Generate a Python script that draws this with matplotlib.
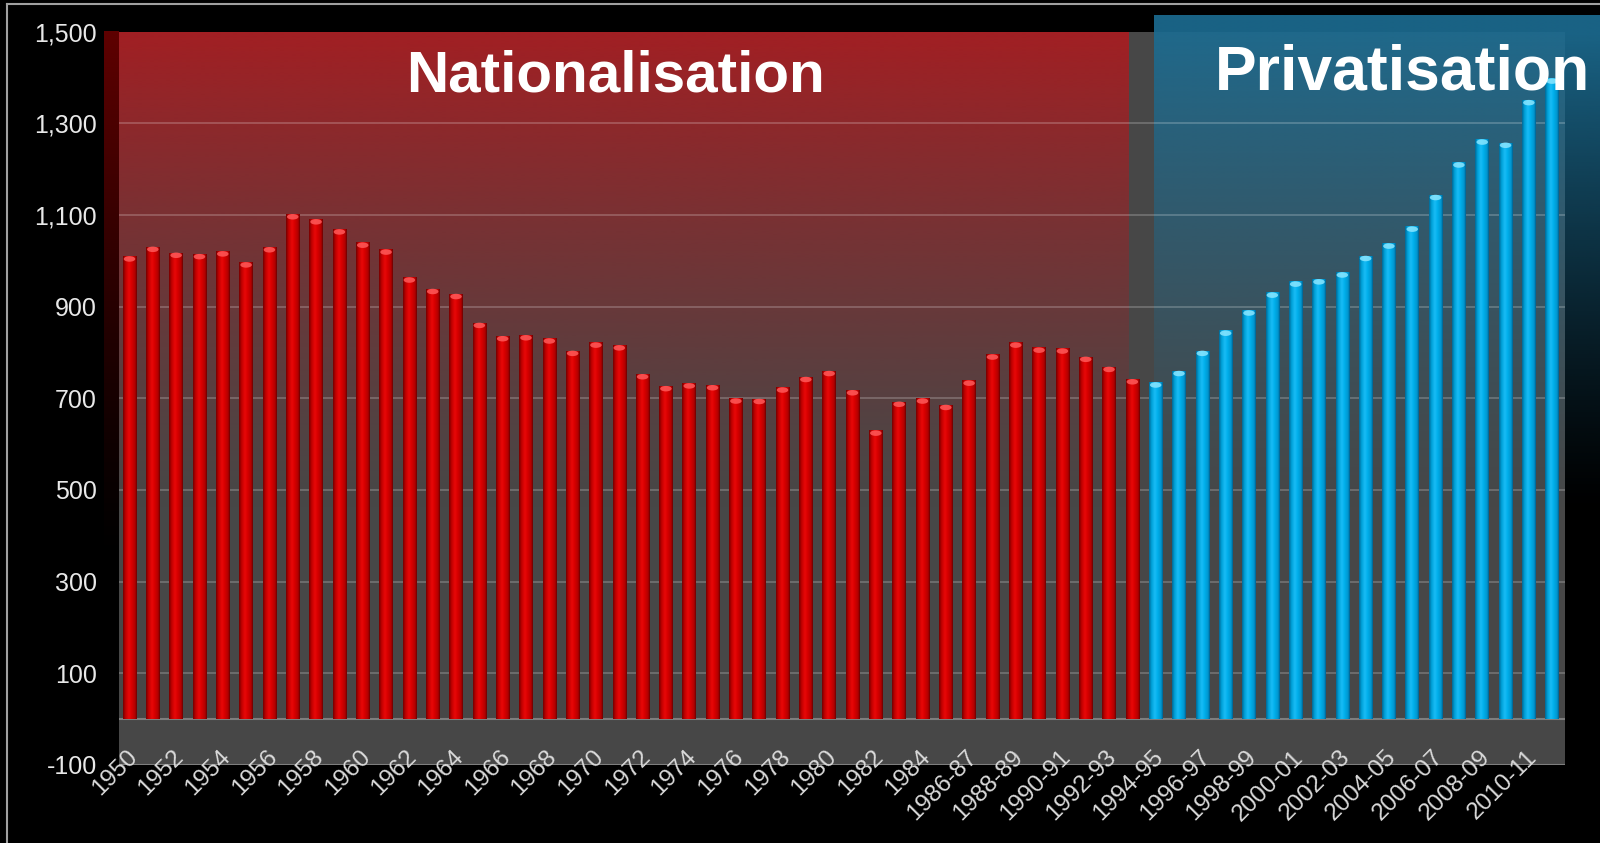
import matplotlib
matplotlib.use("Agg")
import matplotlib.pyplot as plt
import numpy as np
from matplotlib.patches import Ellipse
from matplotlib.lines import Line2D
from matplotlib.ticker import FuncFormatter

plt.rcParams['font.family'] = ['Liberation Sans', 'DejaVu Sans']

# rail passenger journeys (millions), one bar per year
years = [str(y) for y in range(1950, 1986)] + \
        ["%d-%02d" % (y, (y + 1) % 100) for y in range(1986, 2012)]

nationalised = [1010, 1031, 1018, 1015, 1021, 997, 1030, 1102, 1091, 1069,
                1040, 1025, 964, 939, 928, 865, 836, 838, 831, 804,
                822, 816, 753, 727, 733, 729, 700, 699, 724, 747,
                760, 718, 630, 693, 700, 686, 739, 796, 822, 811,
                809, 791, 769, 742]
privatised = [735, 760, 804, 848, 892, 931, 955, 960, 975, 1011,
              1038, 1075, 1144, 1215, 1265, 1258, 1351, 1398]

y_ticks = list(range(-100, 1501, 200))

values = nationalised + privatised
x = np.arange(len(years))
n_red = len(nationalised)

W, H = 1600, 843
fig = plt.figure(figsize=(W / 100, H / 100), dpi=100, facecolor='black')
ax = fig.add_axes([119 / W, 1 - 765 / H, (1565 - 119) / W, (765 - 31.6) / H])
ax.set_facecolor('#474747')
for s in ax.spines.values():
    s.set_visible(False)

XL = (-0.45, 61.55)
YL = (-100, 1500)


def vgrad(rgb, x0, x1, y0, y1, a_top, fade_to, z=0.2, clip=True):
    # vertical colour wash, opaque at the top and fading out downwards
    ys = np.linspace(y0, y1, 300)
    alpha = np.clip((ys - fade_to) / (1500 - fade_to), 0, 1) ** 1.2 * a_top
    img = np.zeros((300, 1, 4))
    img[..., :3] = np.array(rgb) / 255
    img[:, 0, 3] = alpha
    im = ax.imshow(img, extent=[x0, x1, y0, y1], origin='lower', aspect='auto',
                   interpolation='bilinear', zorder=z)
    im.set_clip_on(clip)
    return im


# background panels
vgrad((165, 30, 34), XL[0], 42.85, -100, 1500, 0.97, 450)
vgrad((95, 0, 0), -1.09, XL[0], -100, 1500, 1.0, 350, clip=False)
vgrad((28, 108, 145), 43.93, 63.1, -100, 1536, 0.92, 450, clip=False)

# grid lines, base line and floor edge
ax.hlines(y_ticks[1:-1], XL[0], XL[1], colors='white', alpha=0.22, lw=1.3, zorder=0.5)
ax.hlines([0, -100], XL[0], XL[1], colors='white', alpha=0.3, lw=1.5, zorder=0.5)


def hgrad(stops):
    pos = np.linspace(0, 1, 64)
    p = [s[0] for s in stops]
    cols = np.array([s[1] for s in stops], dtype=float) / 255
    img = np.ones((1, 64, 4))
    for c in range(3):
        img[0, :, c] = np.interp(pos, p, cols[:, c])
    return img


red_img = hgrad([(0, (115, 0, 0)), (0.18, (190, 0, 0)), (0.42, (232, 8, 8)),
                 (0.62, (215, 0, 0)), (0.88, (175, 0, 0)), (1, (105, 0, 0))])
blue_img = hgrad([(0, (0, 105, 150)), (0.18, (0, 160, 215)), (0.42, (25, 188, 246)),
                  (0.62, (0, 175, 235)), (0.88, (0, 148, 205)), (1, (0, 95, 140))])

bw = 0.58
bars = ax.bar(x, values, width=bw, color='none', edgecolor='none', zorder=2)
for i, (b, v) in enumerate(zip(bars, values)):
    red = i < n_red
    im = ax.imshow(red_img if red else blue_img, extent=[i - bw / 2, i + bw / 2, 0, v],
                   aspect='auto', interpolation='bilinear', zorder=2)
    im.set_clip_path(b)
    ax.add_patch(Ellipse((i, v - 6), bw * 0.85, 12,
                         facecolor='#ff5a5a' if red else '#8ae6ff',
                         edgecolor='none', alpha=0.85, zorder=3))

ax.set_xlim(*XL)
ax.set_ylim(*YL)

# axis labels
ax.set_yticks(y_ticks)
ax.yaxis.set_major_formatter(FuncFormatter(lambda v, p: f"{int(v):,}"))
ax.tick_params(axis='y', length=0, pad=16, labelsize=18, labelcolor='#e8e8e8')
ax.set_xticks([])
for i in x[::2]:
    ax.annotate(years[i], xy=(i, 0), xycoords=ax.get_xaxis_transform(),
                xytext=(3, 8), textcoords='offset points', rotation=45,
                rotation_mode='anchor', ha='right', va='center',
                fontsize=17.5, color='#dadada', annotation_clip=False)

ax.text(20.85, 1403, 'Nationalisation', ha='center', va='center',
        fontsize=42, fontweight='bold', color='white', zorder=5)
ax.text(54.6, 1410, 'Privatisation', ha='center', va='center',
        fontsize=45, fontweight='bold', color='white', zorder=5, clip_on=False)

# thin frame on the left and top edge
fig.add_artist(Line2D([7 / W, 7 / W], [0, 1 - 4 / H], transform=fig.transFigure,
                      color='#a0a0a0', lw=1.5))
fig.add_artist(Line2D([7 / W, 1], [1 - 4 / H, 1 - 4 / H], transform=fig.transFigure,
                      color='#a0a0a0', lw=1.5))

fig.savefig('out.png', dpi=100, facecolor='black')
